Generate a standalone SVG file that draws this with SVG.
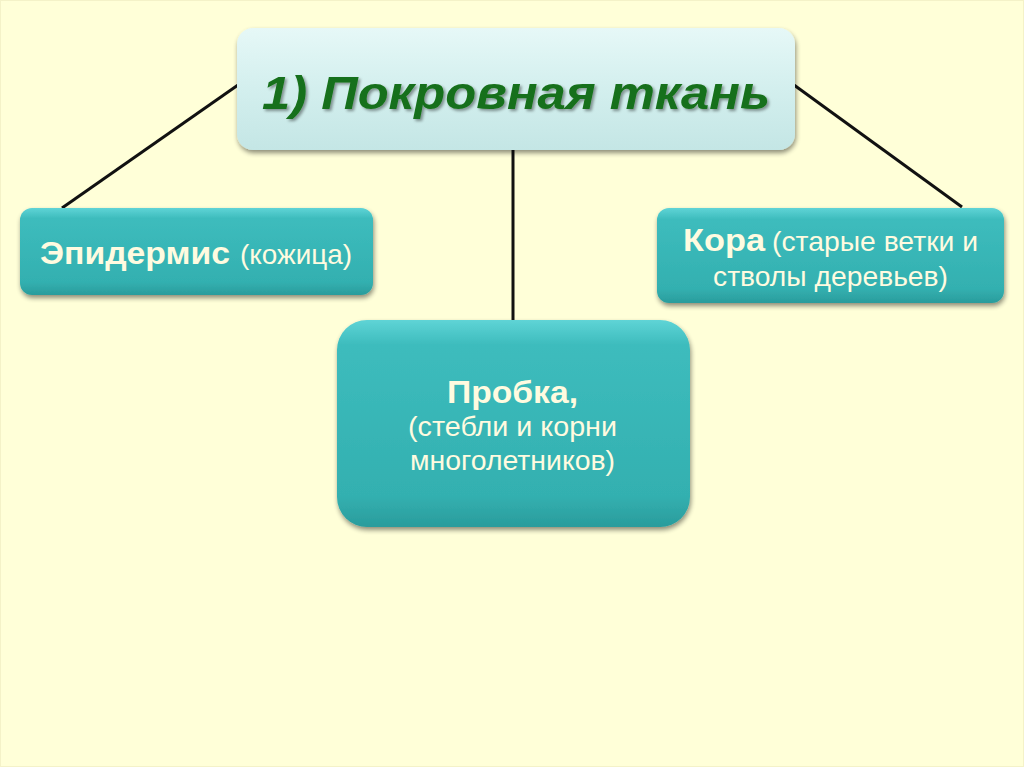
<svg xmlns="http://www.w3.org/2000/svg" width="1024" height="767" viewBox="0 0 1024 767">
<defs>
<linearGradient id="teal" x1="0" y1="0" x2="0" y2="1">
<stop offset="0" stop-color="#5fd4d6"/>
<stop offset="0.12" stop-color="#3dbcbd"/>
<stop offset="0.85" stop-color="#33b0b0"/>
<stop offset="1" stop-color="#2a9c9c"/>
</linearGradient>
<linearGradient id="light" x1="0" y1="0" x2="0" y2="1">
<stop offset="0" stop-color="#e6f8f7"/>
<stop offset="0.5" stop-color="#d3efee"/>
<stop offset="1" stop-color="#c4e6e5"/>
</linearGradient>
<filter id="sh" x="-10%" y="-10%" width="120%" height="130%">
<feGaussianBlur in="SourceAlpha" stdDeviation="2.5"/>
<feOffset dx="1" dy="3" result="b"/>
<feComponentTransfer><feFuncA type="linear" slope="0.45"/></feComponentTransfer>
<feMerge><feMergeNode/><feMergeNode in="SourceGraphic"/></feMerge>
</filter>
<filter id="tsh" x="-5%" y="-20%" width="110%" height="140%">
<feGaussianBlur in="SourceAlpha" stdDeviation="1.5"/>
<feOffset dx="2" dy="2" result="b"/>
<feComponentTransfer><feFuncA type="linear" slope="0.4"/></feComponentTransfer>
<feMerge><feMergeNode/><feMergeNode in="SourceGraphic"/></feMerge>
</filter>
</defs>
<style>
.conn{stroke:#111;stroke-width:3;fill:none}
.tb{fill:url(#teal);filter:url(#sh)}
.t{font-family:"Liberation Sans",Arial,sans-serif;fill:#fffbe0;font-size:28px}
.b{font-weight:bold;font-size:31px}
</style>
<rect width="1024" height="767" fill="#ffffd8"/>
<rect x="0.5" y="0.5" width="1023" height="766" fill="none" stroke="#f4f2c8" stroke-width="1"/>
<g id="connectors">
<line class="conn" x1="238" y1="85" x2="62" y2="208"/>
<line class="conn" x1="794" y1="85" x2="962" y2="207"/>
<line class="conn" x1="513" y1="150" x2="513" y2="320"/>
</g>
<g id="root">
<rect x="237" y="28" width="558" height="122" rx="16" fill="url(#light)" filter="url(#sh)"/>
<text x="262" y="109" textLength="508" lengthAdjust="spacingAndGlyphs" font-family="'Liberation Sans',Arial,sans-serif" font-size="46" font-weight="bold" font-style="italic" fill="#17701a" filter="url(#tsh)">1) Покровная ткань</text>
</g>
<g id="epidermis">
<rect class="tb" x="20" y="208" width="353" height="87" rx="12"/>
<text class="t b" x="40" y="264" textLength="190" lengthAdjust="spacingAndGlyphs">Эпидермис</text>
<text class="t" x="240" y="264" textLength="112" lengthAdjust="spacingAndGlyphs">(кожица)</text>
</g>
<g id="kora">
<rect class="tb" x="657" y="208" width="347" height="95" rx="12"/>
<text class="t b" x="683" y="251" textLength="82" lengthAdjust="spacingAndGlyphs">Кора</text>
<text class="t" x="772" y="251" textLength="206" lengthAdjust="spacingAndGlyphs">(старые ветки и</text>
<text class="t" x="713" y="286" textLength="235" lengthAdjust="spacingAndGlyphs">стволы деревьев)</text>
</g>
<g id="probka">
<rect class="tb" x="337" y="320" width="353" height="207" rx="30"/>
<text class="t b" x="447" y="403" textLength="131" lengthAdjust="spacingAndGlyphs">Пробка,</text>
<text class="t" x="408" y="436" textLength="209" lengthAdjust="spacingAndGlyphs">(стебли и корни</text>
<text class="t" x="410" y="470" textLength="205" lengthAdjust="spacingAndGlyphs">многолетников)</text>
</g>
</svg>
